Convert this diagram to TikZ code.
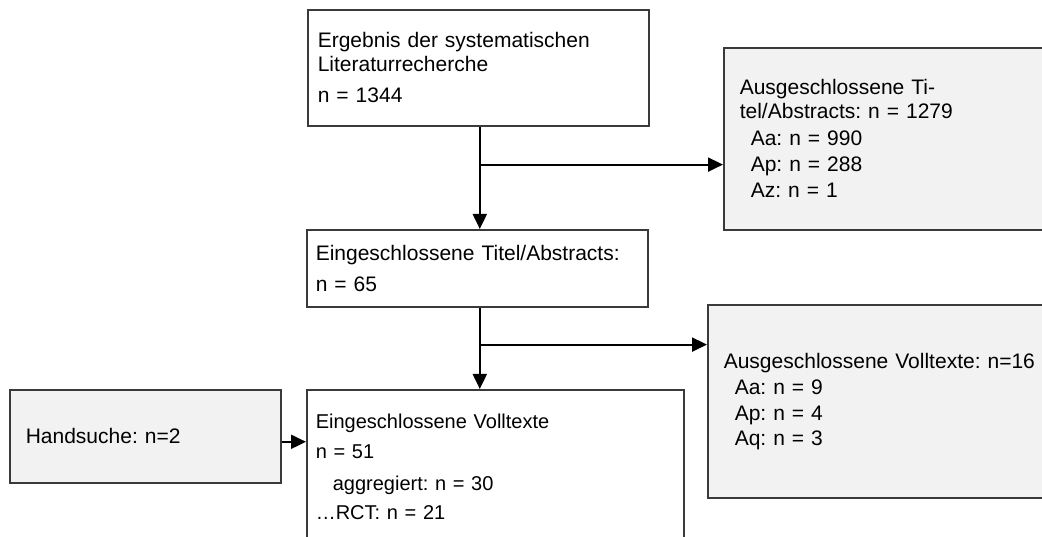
\documentclass[tikz,border=0pt]{standalone}
\usepackage{fontspec}
\setmainfont{Liberation Sans}
\usetikzlibrary{arrows.meta,calc}
\definecolor{boxgray}{HTML}{F2F2F2}
\definecolor{edge}{HTML}{3A3A3A}
\frenchspacing
\begin{document}
\begin{tikzpicture}[x=1pt,y=-1pt,
  box/.style={draw=edge, line width=1.6pt, rectangle, anchor=north west,
    align=left, inner ysep=0pt, font=\fontsize{21}{24}\selectfont},
  plain/.style={box, fill=white},
  shaded/.style={box, fill=boxgray},
  arr/.style={line width=2pt, -{Triangle[length=15pt,width=14pt]}}]
\clip (0,0) rectangle (1042,537);
\fill[white] (0,0) rectangle (1042,537);

% main column
\node[plain, minimum width=341pt, minimum height=116pt, inner xsep=10pt, text width=321pt]
  (top) at (307,9) {Ergebnis der systematischen\\ Literaturrecherche\\[7pt] n = 1344};
\node[plain, minimum width=341pt, minimum height=77pt, inner xsep=9pt, text width=323pt]
  (incl1) at (306,229) {Eingeschlossene Titel/Abstracts:\\[7pt] n = 65};
\node[plain, minimum width=377pt, minimum height=155pt, inner xsep=9pt, text width=359pt,
  font=\fontsize{20}{24}\selectfont]
  (full) at (306,389) {Eingeschlossene Volltexte\\[6pt] n = 51\\[8pt]
  \hspace*{17pt}aggregiert: n = 30\\[5pt] …RCT: n = 21};

% exclusions and additional sources
\node[shaded, minimum width=360pt, minimum height=182pt, inner xsep=16pt, text width=328pt]
  (excl1) at (723,47) {Ausgeschlossene Ti-\\ tel/Abstracts: n = 1279\\[3pt]
  \hspace*{11pt}Aa: n = 990\\[2pt] \hspace*{11pt}Ap: n = 288\\[2pt] \hspace*{11pt}Az: n = 1};
\node[shaded, minimum width=370pt, minimum height=193pt, inner xsep=16pt, text width=338pt]
  (excl2) at (707,304) {Ausgeschlossene Volltexte: n=16\\[2pt]
  \hspace*{11pt}Aa: n = 9\\[2pt] \hspace*{11pt}Ap: n = 4\\[1pt] \hspace*{11pt}Aq: n = 3};
\node[shaded, minimum width=271pt, minimum height=93pt, inner xsep=16pt, text width=239pt]
  (hand) at (9,389) {Handsuche: n=2};

% connectors
\coordinate (s1) at ($(top.south)+(1.5,0)$);
\coordinate (b1) at ($(s1)+(0,38)$);
\draw[arr] (s1) -- (s1 |- incl1.north);
\draw[arr] (b1) -- (b1 -| excl1.west);

\coordinate (s2) at ($(incl1.south)+(2.5,0)$);
\coordinate (b2) at ($(s2)+(0,37)$);
\draw[arr] (s2) -- (s2 |- full.north);
\draw[arr] (b2) -- (b2 -| excl2.west);

\coordinate (h1) at ($(hand.east)+(0,5.5)$);
\draw[arr] (h1) -- (h1 -| full.west);
\end{tikzpicture}
\end{document}
